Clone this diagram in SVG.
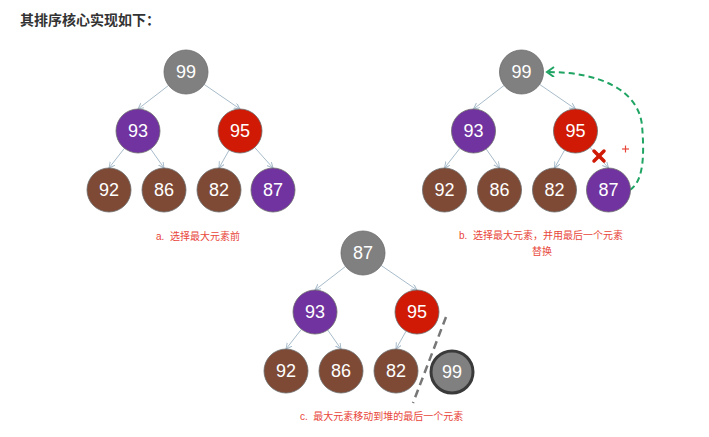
<svg xmlns="http://www.w3.org/2000/svg" width="709" height="437" viewBox="0 0 709 437">
<defs>
<style>
.n circle{stroke:#6b6b6b;stroke-width:0.8}
.n text{font-family:"Liberation Sans",Arial,sans-serif;font-size:18px;fill:#fff;text-anchor:middle;dominant-baseline:central}
.gray circle{fill:#808080}
.pur circle{fill:#7133a0}
.red circle{fill:#d01a06}
.brn circle{fill:#7e4a36}
.edge{stroke:#a8bccb;stroke-width:1;fill:none;marker-end:url(#ah)}
.cap{font-family:"Liberation Sans","Noto Sans CJK SC",sans-serif;font-size:10px;fill:#e8463a;white-space:pre}
</style>
<marker id="ah" markerWidth="8" markerHeight="8" refX="6" refY="3" orient="auto" markerUnits="userSpaceOnUse">
<path d="M0,0 L6,3 L0,6" fill="none" stroke="#a8bccb" stroke-width="1"/>
</marker>
<marker id="gh" markerWidth="12" markerHeight="12" refX="8" refY="5" orient="auto" markerUnits="userSpaceOnUse">
<path d="M1,0 L8,5 L1,10" fill="none" stroke="#1fa463" stroke-width="2"/>
</marker>
</defs>
<rect width="709" height="437" fill="#fff"/>
<text x="20" y="25" font-family="'Liberation Sans','Noto Sans CJK SC',sans-serif" font-size="14" font-weight="bold" fill="#333">其排序核心实现如下：</text>

<!-- connectors -->
<g id="connectors">
<g id="conn-a">
<line class="edge" x1="168.6" y1="85.4" x2="138" y2="109"/>
<line class="edge" x1="204.1" y1="84.4" x2="240" y2="109"/>
<line class="edge" x1="124.4" y1="148.3" x2="109" y2="168"/>
<line class="edge" x1="150.7" y1="149" x2="164" y2="168"/>
<line class="edge" x1="229.1" y1="150.1" x2="219" y2="168"/>
<line class="edge" x1="254.6" y1="147.4" x2="273" y2="168"/>
</g>
<g id="conn-b" transform="translate(335.5,0)">
<line class="edge" x1="168.6" y1="85.4" x2="138" y2="109"/>
<line class="edge" x1="204.1" y1="84.4" x2="240" y2="109"/>
<line class="edge" x1="124.4" y1="148.3" x2="109" y2="168"/>
<line class="edge" x1="150.7" y1="149" x2="164" y2="168"/>
<line class="edge" x1="229.1" y1="150.1" x2="219" y2="168"/>
<line class="edge" x1="254.6" y1="147.4" x2="273" y2="168"/>
</g>
<g id="conn-c" transform="translate(177,181)">
<line class="edge" x1="168.6" y1="85.4" x2="138" y2="109"/>
<line class="edge" x1="204.1" y1="84.4" x2="240" y2="109"/>
<line class="edge" x1="124.4" y1="148.3" x2="109" y2="168"/>
<line class="edge" x1="150.7" y1="149" x2="164" y2="168"/>
<line class="edge" x1="229.1" y1="150.1" x2="219" y2="168"/>
</g>
<path id="swap-arrow" d="M630,190 C645,180 644,150 642,125 C638,90 600,72 547,72" fill="none" stroke="#1fa463" stroke-width="2" stroke-dasharray="6 4" marker-end="url(#gh)"/>
<line id="divider" x1="446" y1="317" x2="413" y2="403" stroke="#777" stroke-width="2.5" stroke-dasharray="8 5"/>
</g>

<!-- tree a -->
<g id="a-99" class="n gray"><circle cx="186" cy="72" r="22"/><text x="186" y="72">99</text></g>
<g id="a-93" class="n pur"><circle cx="138" cy="131" r="22"/><text x="138" y="131">93</text></g>
<g id="a-95" class="n red"><circle cx="240" cy="131" r="22"/><text x="240" y="131">95</text></g>
<g id="a-92" class="n brn"><circle cx="109" cy="190" r="22"/><text x="109" y="190">92</text></g>
<g id="a-86" class="n brn"><circle cx="164" cy="190" r="22"/><text x="164" y="190">86</text></g>
<g id="a-82" class="n brn"><circle cx="219" cy="190" r="22"/><text x="219" y="190">82</text></g>
<g id="a-87" class="n pur"><circle cx="273" cy="190" r="22"/><text x="273" y="190">87</text></g>
<text class="cap" x="156" y="240">a.  选择最大元素前</text>

<!-- tree b -->
<g transform="translate(335.5,0)">
<g id="b-99" class="n gray"><circle cx="186" cy="72" r="22"/><text x="186" y="72">99</text></g>
<g id="b-93" class="n pur"><circle cx="138" cy="131" r="22"/><text x="138" y="131">93</text></g>
<g id="b-95" class="n red"><circle cx="240" cy="131" r="22"/><text x="240" y="131">95</text></g>
<g id="b-92" class="n brn"><circle cx="109" cy="190" r="22"/><text x="109" y="190">92</text></g>
<g id="b-86" class="n brn"><circle cx="164" cy="190" r="22"/><text x="164" y="190">86</text></g>
<g id="b-82" class="n brn"><circle cx="219" cy="190" r="22"/><text x="219" y="190">82</text></g>
<g id="b-87" class="n pur"><circle cx="273" cy="190" r="22"/><text x="273" y="190">87</text></g>
</g>
<g id="cross" stroke="#d01a06" stroke-width="3.5" stroke-linecap="round">
<line x1="594" y1="151" x2="604" y2="161"/>
<line x1="604" y1="151" x2="594" y2="161"/>
</g>
<g id="plus" stroke="#e8463a" stroke-width="1.2">
<line x1="622" y1="149" x2="629" y2="149"/>
<line x1="625.5" y1="145.5" x2="625.5" y2="152.5"/>
</g>
<text class="cap" x="459" y="239">b.  选择最大元素，并用最后一个元素</text>
<text class="cap" x="542" y="255" text-anchor="middle">替换</text>

<!-- tree c -->
<g transform="translate(177,181)">
<g id="c-87" class="n gray"><circle cx="186" cy="72" r="22"/><text x="186" y="72">87</text></g>
<g id="c-93" class="n pur"><circle cx="138" cy="131" r="22"/><text x="138" y="131">93</text></g>
<g id="c-95" class="n red"><circle cx="240" cy="131" r="22"/><text x="240" y="131">95</text></g>
<g id="c-92" class="n brn"><circle cx="109" cy="190" r="22"/><text x="109" y="190">92</text></g>
<g id="c-86" class="n brn"><circle cx="164" cy="190" r="22"/><text x="164" y="190">86</text></g>
<g id="c-82" class="n brn"><circle cx="219" cy="190" r="22"/><text x="219" y="190">82</text></g>
<g id="c-99" class="n gray"><circle cx="275" cy="191" r="21" style="stroke:#3a3a3a;stroke-width:3"/><text x="275" y="191">99</text></g>
</g>
<text class="cap" x="300" y="420">c.  最大元素移动到堆的最后一个元素</text>
</svg>
